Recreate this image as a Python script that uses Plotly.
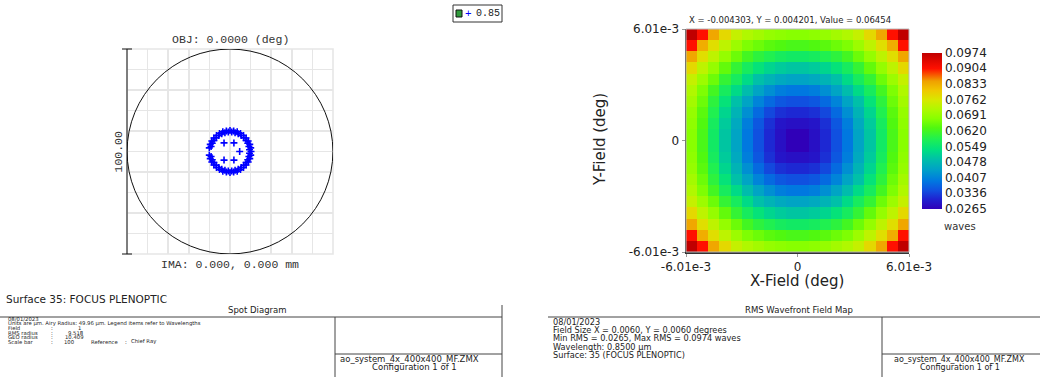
import plotly.graph_objects as go

W, H = 1040, 377

# ---------------- DATA ----------------
# Spot diagram ray intercepts (micrometres), wavelength 0.85 um
spot_x = [10.20, 10.05, 9.59, 8.83, 7.81, 6.56, 5.10, 3.49, 1.77, 0.00,
          -1.77, -3.49, -5.10, -6.56, -7.81, -8.83, -9.59, -10.05,
          -10.05, -9.59, -8.83, -7.81, -6.56, -5.10, -3.49, -1.77, 0.00,
          1.77, 3.49, 5.10, 6.56, 7.81, 8.83, 9.59, 10.05,
          9.46, 9.18, 8.61, 7.78, 6.72, 5.45, 4.01, 2.46, 0.83,
          -0.83, -2.46, -4.01, -5.45, -6.72, -7.78, -8.61, -9.18,
          -9.18, -8.61, -7.78, -6.72, -5.45, -4.01, -2.46, -0.83,
          0.83, 2.46, 4.01, 5.45, 6.72, 7.78, 8.61, 9.18, 9.46,
          -2.9, 1.9, 4.7, -2.9, 1.9]
spot_y = [0.00, 1.77, 3.49, 5.10, 6.56, 7.81, 8.83, 9.59, 10.05, 10.20,
          10.05, 9.59, 8.83, 7.81, 6.56, 5.10, 3.49, 1.77,
          -1.77, -3.49, -5.10, -6.56, -7.81, -8.83, -9.59, -10.05, -10.20,
          -10.05, -9.59, -8.83, -7.81, -6.56, -5.10, -3.49, -1.77,
          0.83, 2.46, 4.01, 5.45, 6.72, 7.78, 8.61, 9.18, 9.46,
          9.46, 9.18, 8.61, 7.78, 6.72, 5.45, 4.01, 2.46,
          -2.46, -4.01, -5.45, -6.72, -7.78, -8.61, -9.18, -9.46,
          -9.46, -9.18, -8.61, -7.78, -6.72, -5.45, -4.01, -2.46, -0.83,
          4.2, 4.2, 0.0, -4.2, -4.2]
airy_radius = 49.96
scale_bar = 100.0
wavelength_label = "0.85"

# RMS wavefront field map (waves), 20 x 20 samples, top row first
field_half = 0.00601
rms_rows = [
    [0.0974, 0.0903, 0.0839, 0.0783, 0.0740, 0.0719, 0.0705, 0.0690, 0.0683, 0.0676, 0.0676, 0.0683, 0.0690, 0.0705, 0.0719, 0.0740, 0.0783, 0.0839, 0.0903, 0.0974],
    [0.0903, 0.0832, 0.0775, 0.0733, 0.0697, 0.0669, 0.0655, 0.0641, 0.0634, 0.0627, 0.0627, 0.0634, 0.0641, 0.0655, 0.0669, 0.0697, 0.0733, 0.0775, 0.0832, 0.0903],
    [0.0839, 0.0775, 0.0733, 0.0690, 0.0655, 0.0620, 0.0598, 0.0584, 0.0570, 0.0563, 0.0563, 0.0570, 0.0584, 0.0598, 0.0620, 0.0655, 0.0690, 0.0733, 0.0775, 0.0839],
    [0.0783, 0.0733, 0.0690, 0.0648, 0.0605, 0.0570, 0.0542, 0.0520, 0.0506, 0.0499, 0.0499, 0.0506, 0.0520, 0.0542, 0.0570, 0.0605, 0.0648, 0.0690, 0.0733, 0.0783],
    [0.0740, 0.0697, 0.0655, 0.0605, 0.0570, 0.0527, 0.0492, 0.0471, 0.0456, 0.0449, 0.0449, 0.0456, 0.0471, 0.0492, 0.0527, 0.0570, 0.0605, 0.0655, 0.0697, 0.0740],
    [0.0719, 0.0669, 0.0620, 0.0570, 0.0527, 0.0485, 0.0449, 0.0421, 0.0400, 0.0393, 0.0393, 0.0400, 0.0421, 0.0449, 0.0485, 0.0527, 0.0570, 0.0620, 0.0669, 0.0719],
    [0.0705, 0.0655, 0.0598, 0.0542, 0.0492, 0.0449, 0.0407, 0.0378, 0.0357, 0.0350, 0.0350, 0.0357, 0.0378, 0.0407, 0.0449, 0.0492, 0.0542, 0.0598, 0.0655, 0.0705],
    [0.0690, 0.0641, 0.0584, 0.0520, 0.0471, 0.0421, 0.0378, 0.0343, 0.0322, 0.0315, 0.0315, 0.0322, 0.0343, 0.0378, 0.0421, 0.0471, 0.0520, 0.0584, 0.0641, 0.0690],
    [0.0683, 0.0634, 0.0570, 0.0506, 0.0456, 0.0400, 0.0357, 0.0322, 0.0293, 0.0286, 0.0286, 0.0293, 0.0322, 0.0357, 0.0400, 0.0456, 0.0506, 0.0570, 0.0634, 0.0683],
    [0.0676, 0.0627, 0.0563, 0.0499, 0.0449, 0.0393, 0.0350, 0.0315, 0.0286, 0.0265, 0.0265, 0.0286, 0.0315, 0.0350, 0.0393, 0.0449, 0.0499, 0.0563, 0.0627, 0.0676],
    [0.0676, 0.0627, 0.0563, 0.0499, 0.0449, 0.0393, 0.0350, 0.0315, 0.0286, 0.0265, 0.0265, 0.0286, 0.0315, 0.0350, 0.0393, 0.0449, 0.0499, 0.0563, 0.0627, 0.0676],
    [0.0683, 0.0634, 0.0570, 0.0506, 0.0456, 0.0400, 0.0357, 0.0322, 0.0293, 0.0286, 0.0286, 0.0293, 0.0322, 0.0357, 0.0400, 0.0456, 0.0506, 0.0570, 0.0634, 0.0683],
    [0.0690, 0.0641, 0.0584, 0.0520, 0.0471, 0.0421, 0.0378, 0.0343, 0.0322, 0.0315, 0.0315, 0.0322, 0.0343, 0.0378, 0.0421, 0.0471, 0.0520, 0.0584, 0.0641, 0.0690],
    [0.0705, 0.0655, 0.0598, 0.0542, 0.0492, 0.0449, 0.0407, 0.0378, 0.0357, 0.0350, 0.0350, 0.0357, 0.0378, 0.0407, 0.0449, 0.0492, 0.0542, 0.0598, 0.0655, 0.0705],
    [0.0719, 0.0669, 0.0620, 0.0570, 0.0527, 0.0485, 0.0449, 0.0421, 0.0400, 0.0393, 0.0393, 0.0400, 0.0421, 0.0449, 0.0485, 0.0527, 0.0570, 0.0620, 0.0669, 0.0719],
    [0.0740, 0.0697, 0.0655, 0.0605, 0.0570, 0.0527, 0.0492, 0.0471, 0.0456, 0.0449, 0.0449, 0.0456, 0.0471, 0.0492, 0.0527, 0.0570, 0.0605, 0.0655, 0.0697, 0.0740],
    [0.0783, 0.0733, 0.0690, 0.0648, 0.0605, 0.0570, 0.0542, 0.0520, 0.0506, 0.0499, 0.0499, 0.0506, 0.0520, 0.0542, 0.0570, 0.0605, 0.0648, 0.0690, 0.0733, 0.0783],
    [0.0839, 0.0775, 0.0733, 0.0690, 0.0655, 0.0620, 0.0598, 0.0584, 0.0570, 0.0563, 0.0563, 0.0570, 0.0584, 0.0598, 0.0620, 0.0655, 0.0690, 0.0733, 0.0775, 0.0839],
    [0.0903, 0.0832, 0.0775, 0.0733, 0.0697, 0.0669, 0.0655, 0.0641, 0.0634, 0.0627, 0.0627, 0.0634, 0.0641, 0.0655, 0.0669, 0.0697, 0.0733, 0.0775, 0.0832, 0.0903],
    [0.0974, 0.0903, 0.0839, 0.0783, 0.0740, 0.0719, 0.0705, 0.0690, 0.0683, 0.0676, 0.0676, 0.0683, 0.0690, 0.0705, 0.0719, 0.0740, 0.0783, 0.0839, 0.0903, 0.0974],
]
rms_min, rms_max = 0.0265, 0.0974
cbar_labels = ["0.0265", "0.0336", "0.0407", "0.0478", "0.0549", "0.0620",
               "0.0691", "0.0762", "0.0833", "0.0904", "0.0974"]
field_ticks = ["-6.01e-3", "0", "6.01e-3"]

# ---------------- LAYOUT HELPERS ----------------
def px(x):
    return x / W

def py(y):
    return 1 - y / H

MONO = "Liberation Mono"
SANS = "DejaVu Sans"

# spot box in pixels
SX0, SX1, SY0, SY1 = 127, 333, 49, 254
# heatmap box
HX0, HX1, HY0, HY1 = 686, 909, 29, 252

fig = go.Figure()

fig.add_trace(go.Scatter(
    x=spot_x, y=spot_y, mode="markers", xaxis="x", yaxis="y",
    marker=dict(symbol="cross-thin", size=5, color="#0000ff",
                line=dict(color="#0000ff", width=1.6)),
    showlegend=False, hoverinfo="skip"))

n = len(rms_rows)
dcell = 2 * field_half / n
z_bottom_first = rms_rows[::-1]
fig.add_trace(go.Heatmap(
    z=z_bottom_first, x0=-field_half + dcell / 2, dx=dcell,
    y0=-field_half + dcell / 2, dy=dcell, xaxis="x2", yaxis="y2",
    zmin=rms_min, zmax=rms_max,
    colorscale=[[0.0, "#3000b8"], [0.06, "#2020d0"], [0.12, "#1050e0"],
                [0.18, "#0078e0"], [0.25, "#00a0c8"], [0.32, "#00c0a8"],
                [0.38, "#00e080"], [0.45, "#20f050"], [0.52, "#50f810"],
                [0.58, "#88ff00"], [0.64, "#b0f800"], [0.70, "#d8e800"],
                [0.76, "#f0c800"], [0.82, "#f0a000"], [0.90, "#ff1000"],
                [1.0, "#c00000"]],
    colorbar=dict(x=px(922), xanchor="left", xpad=0, ypad=0,
                  y=py((52.7 + 209) / 2), yanchor="middle",
                  len=156, lenmode="pixels", thickness=20,
                  outlinewidth=0,
                  tickvals=[float(v) for v in cbar_labels], ticktext=cbar_labels,
                  ticks="", tickfont=dict(family=SANS, size=12, color="#222")),
    hoverinfo="skip"))

axis_common = dict(fixedrange=True, zeroline=False, automargin=False)
fig.update_layout(
    width=W, height=H, margin=dict(l=0, r=0, t=0, b=0, autoexpand=False),
    paper_bgcolor="white", plot_bgcolor="white", showlegend=False,
    xaxis=dict(domain=[px(SX0), px(SX1)], range=[-50, 50], dtick=10, tick0=0,
               anchor="y", showticklabels=False, showgrid=True, gridcolor="#e6e6e6",
               gridwidth=1.6, ticks="", **axis_common),
    yaxis=dict(domain=[py(SY1), py(SY0)], range=[-50, 50], dtick=10, tick0=0,
               anchor="x", showticklabels=False, showgrid=True, gridcolor="#e6e6e6",
               gridwidth=1.6, ticks="", **axis_common),
    xaxis2=dict(domain=[px(HX0), px(HX1)], range=[-field_half, field_half],
                anchor="y2",
                tickvals=[-field_half, 0, field_half], ticktext=field_ticks,
                ticks="outside", ticklen=3, tickcolor="#999",
                showgrid=False, showline=True, linecolor="#333", linewidth=1.5,
                tickfont=dict(family=SANS, size=12, color="#222"), **axis_common),
    yaxis2=dict(domain=[py(HY1), py(HY0)], range=[-field_half, field_half],
                anchor="x2",
                tickvals=[-field_half, 0, field_half], ticktext=field_ticks,
                ticks="outside", ticklen=3, tickcolor="#999",
                showgrid=False, showline=True, linecolor="#333", linewidth=1.5,
                tickfont=dict(family=SANS, size=12, color="#222"), **axis_common),
)

shapes = []
# spot box outline (grey)
shapes.append(dict(type="rect", xref="paper", yref="paper",
                   x0=px(SX0), x1=px(SX1), y0=py(SY1), y1=py(SY0),
                   line=dict(color="#e6e6e6", width=1.6)))
# Airy circle
shapes.append(dict(type="circle", xref="x", yref="y",
                   x0=-airy_radius, x1=airy_radius, y0=-airy_radius, y1=airy_radius,
                   line=dict(color="#111", width=1)))
# scale bar
shapes.append(dict(type="line", xref="paper", yref="paper",
                   x0=px(SX0), x1=px(SX0), y0=py(SY0), y1=py(SY1),
                   line=dict(color="#111", width=1)))
for yy in (SY0, SY1):
    shapes.append(dict(type="line", xref="paper", yref="paper",
                       x0=px(SX0 - 5), x1=px(SX0 + 5), y0=py(yy), y1=py(yy),
                       line=dict(color="#111", width=1)))
# heatmap outline top/right light
shapes.append(dict(type="rect", xref="paper", yref="paper",
                   x0=px(HX0), x1=px(HX1), y0=py(HY1), y1=py(HY0),
                   line=dict(color="#bbb", width=1), layer="above"))
# legend box
shapes.append(dict(type="rect", xref="paper", yref="paper",
                   x0=px(453), x1=px(502), y0=py(22), y1=py(5),
                   line=dict(color="#333", width=1)))
shapes.append(dict(type="rect", xref="paper", yref="paper",
                   x0=px(456), x1=px(462), y0=py(17), y1=py(10),
                   fillcolor="#2f9a3a", line=dict(color="#111", width=1)))
# bottom panel lines
LC = "#444"
def hline(x0, x1, y):
    shapes.append(dict(type="line", xref="paper", yref="paper",
                       x0=px(x0), x1=px(x1), y0=py(y), y1=py(y),
                       line=dict(color=LC, width=1)))
def vline(x, y0, y1):
    shapes.append(dict(type="line", xref="paper", yref="paper",
                       x0=px(x), x1=px(x), y0=py(y0), y1=py(y1),
                       line=dict(color=LC, width=1)))
hline(0, 502, 317)
vline(502, 305, 377)
vline(335, 317, 377)
hline(335, 502, 354)
hline(548, 1040, 317)
vline(882, 317, 377)
hline(882, 1040, 354)
fig.update_layout(shapes=shapes)

ann = []
def text(x, y, s, size, family=SANS, color="#222", xanchor="center", angle=0):
    ann.append(dict(x=px(x), y=py(y), xref="paper", yref="paper", text=s,
                    showarrow=False, xanchor=xanchor, yanchor="middle",
                    borderpad=0, textangle=angle,
                    font=dict(family=family, size=size, color=color)))

# spot diagram labels
text(230, 39.5, "OBJ: 0.0000 (deg)", 11.5, MONO, "#333")
text(230, 264.5, "IMA: 0.000, 0.000 mm", 11.5, MONO, "#333")
text(117.5, 152, "%.2f" % scale_bar, 11.5, MONO, "#333", angle=-90)
text(468, 13.5, "+", 11, MONO, "#0000ff")
text(475, 13.5, wavelength_label, 10, MONO, "#222", xanchor="left")

# heatmap labels
text(688, 20, "X = -0.004303, Y = 0.004201, Value = 0.06454", 8.5, SANS, "#222", xanchor="left")
text(797, 281, "X-Field (deg)", 15, SANS, "#222")
text(600, 140, "Y-Field (deg)", 15, SANS, "#222", angle=-90)
text(943, 226, "waves", 10, SANS, "#333", xanchor="left")

# bottom-left panel
text(5, 299, "Surface 35: FOCUS PLENOPTIC", 10.5, SANS, "#222", xanchor="left")
text(257, 310, "Spot Diagram", 8.5, SANS, "#222")
FS = 5.3
text(7, 318.5, "08/01/2023", FS, SANS, "#222", xanchor="left")
text(7, 323.5, "Units are \u00b5m. Airy Radius: 49.96 \u00b5m. Legend items refer to Wavelengths", FS, SANS, "#222", xanchor="left")
text(7, 328.3, "Field", FS, SANS, "#222", xanchor="left")
text(7, 332.8, "RMS radius", FS, SANS, "#222", xanchor="left")
text(7, 337.2, "GEO radius", FS, SANS, "#222", xanchor="left")
text(7, 341.8, "Scale bar", FS, SANS, "#222", xanchor="left")
for yy in (328.3, 332.8, 337.2, 341.8):
    text(50, yy, ":", FS, SANS, "#222", xanchor="left")
text(82, 328.3, "1", FS, SANS, "#222", xanchor="right")
text(85, 332.8, "9.518", FS, SANS, "#222", xanchor="right")
text(85, 337.2, "10.409", FS, SANS, "#222", xanchor="right")
text(63, 341.8, "100", FS, SANS, "#222", xanchor="left")
text(90, 341.8, "Reference", FS, SANS, "#222", xanchor="left")
text(124, 341.8, ":", FS, SANS, "#222", xanchor="left")
text(130, 341.8, "Chief Ray", FS, SANS, "#222", xanchor="left")
text(409, 358.5, "ao_system_4x_400x400_MF.ZMX", 8.5, SANS, "#222")
text(414, 367, "Configuration 1 of 1", 8.5, SANS, "#222")

# bottom-right panel
text(799, 310, "RMS Wavefront Field Map", 8.5, SANS, "#222")
for yy, s in [(321.7, "08/01/2023"),
              (330, "Field Size X = 0.0060, Y = 0.0060 degrees"),
              (338.3, "Min RMS = 0.0265, Max RMS = 0.0974 waves"),
              (346.5, "Wavelength: 0.8500 \u00b5m"),
              (354.5, "Surface: 35 (FOCUS PLENOPTIC)")]:
    text(552, yy, s, 8.2, SANS, "#222", xanchor="left")
text(959, 359, "ao_system_4x_400x400_MF.ZMX", 8, SANS, "#222")
text(959.5, 367.3, "Configuration 1 of 1", 8, SANS, "#222")

fig.update_layout(annotations=ann)
fig.write_html("out.html",
               config={"displayModeBar": False, "staticPlot": True},
               post_script="document.body.style.margin='0px';"
                           "document.body.style.overflow='hidden';")
